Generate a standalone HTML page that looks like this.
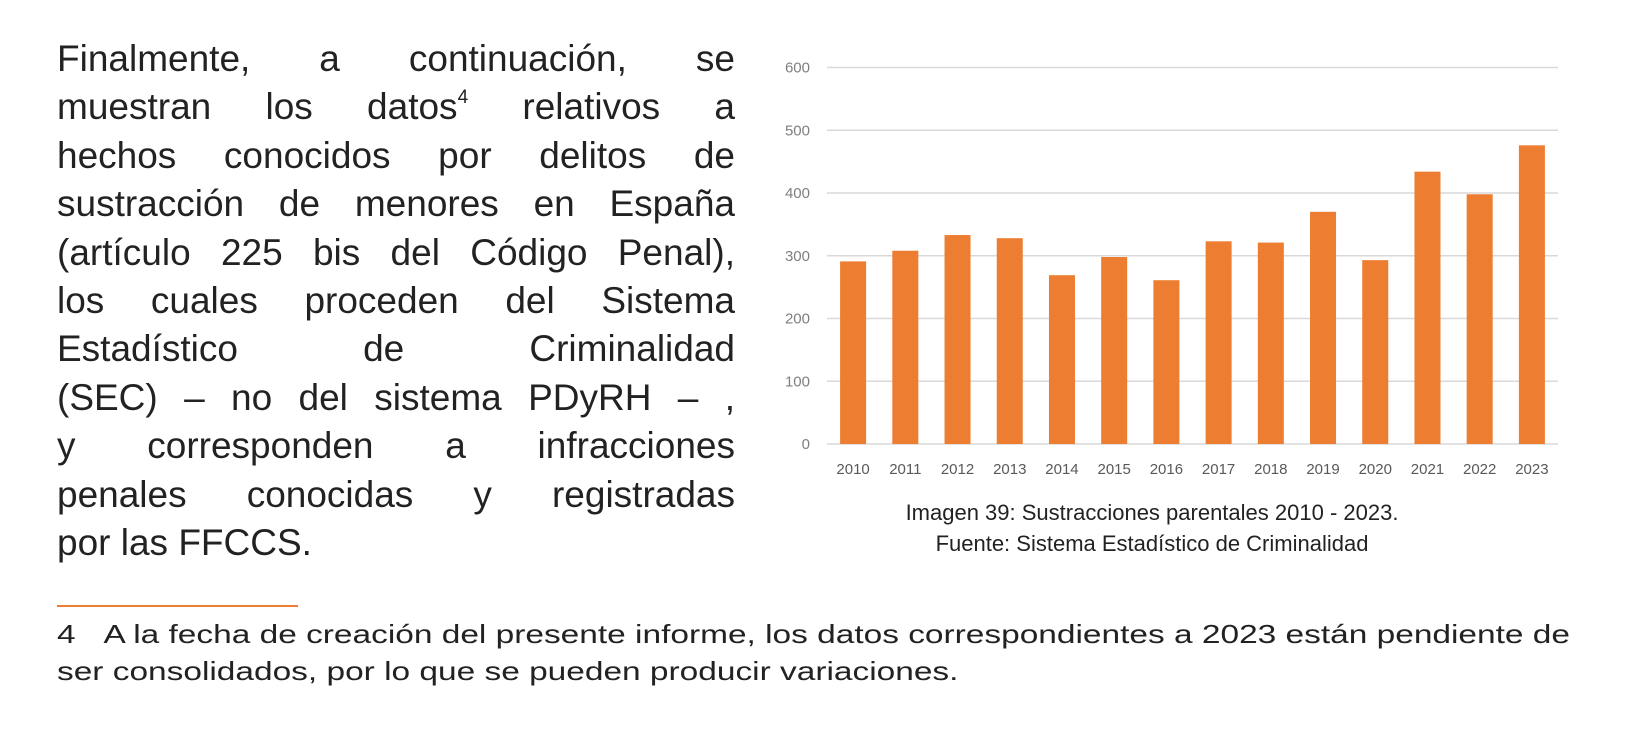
<!DOCTYPE html>
<html><head><meta charset="utf-8"><style>
body{margin:0;width:1627px;height:729px;background:#fff;position:relative;overflow:hidden;font-family:"Liberation Sans",sans-serif;color:#222}
#para{position:absolute;left:57px;top:35px;width:678px;font-size:37px;line-height:48.4px}
#para div{text-align:justify;text-align-last:justify;white-space:nowrap}
#para div.last{text-align-last:left}
sup{font-size:19px;vertical-align:top;line-height:30px}
.cap{position:absolute;left:802px;width:700px;text-align:center;font-size:22px;color:#222}
#fn{position:absolute;left:57px;top:616px;font-size:26px;line-height:37px;width:1560px}
#fn div{white-space:nowrap;transform-origin:0 0;display:inline-block}
</style></head><body>
<div id="para">
<div>Finalmente, a continuación, se</div>
<div>muestran los datos<sup>4</sup> relativos a</div>
<div>hechos conocidos por delitos de</div>
<div>sustracción de menores en España</div>
<div>(artículo 225 bis del Código Penal),</div>
<div>los cuales proceden del Sistema</div>
<div>Estadístico de Criminalidad</div>
<div>(SEC) – no del sistema PDyRH – ,</div>
<div>y corresponden a infracciones</div>
<div>penales conocidas y registradas</div>
<div class="last">por las FFCCS.</div>
</div>
<svg id="chart" style="position:absolute;left:0;top:0" width="1627" height="729"></svg>
<div class="cap" style="top:500px">Imagen 39: Sustracciones parentales 2010 - 2023.</div>
<div class="cap" style="top:531px">Fuente: Sistema Estadístico de Criminalidad</div>
<div style="position:absolute;left:57px;top:605px;width:241px;height:2px;background:#ed7d31"></div>
<div id="fn"><div id="fn1">4&nbsp;&nbsp;&nbsp;A la fecha de creación del presente informe, los datos correspondientes a 2023 están pendiente de</div><br><div id="fn2">ser consolidados, por lo que se pueden producir variaciones.</div></div>
<script>
const categories=["2010","2011","2012","2013","2014","2015","2016","2017","2018","2019","2020","2021","2022","2023"];
const values=[291,308,333,328,269,298,261,323,321,370,293,434,398,476];
const yTicks=[0,100,200,300,400,500,600];
const svg=document.getElementById('chart');
const NS='http://www.w3.org/2000/svg';
const x0=827,x1=1558,yBase=444,yTop=67.5,yMax=600;
const y=v=>yBase-(v/yMax)*(yBase-yTop);
const band=(x1-x0)/categories.length;
const xc=i=>x0+band*(i+0.5);
function mk(t,a){const e=document.createElementNS(NS,t);for(const k in a)e.setAttribute(k,a[k]);svg.appendChild(e);return e;}
yTicks.forEach(t=>{
 const l=mk('line',{x1:x0,x2:x1,y1:y(t),y2:y(t),stroke:'#d9d9d9','stroke-width':1.5});
 
 
 const tx=mk('text',{x:810,y:y(t)+5,'text-anchor':'end','font-size':15,fill:'#7f7f7f','font-family':'Liberation Sans, sans-serif'});
 tx.textContent=t;
 
 
});
categories.forEach((c,i)=>{
 const w=26;
 const r=mk('rect',{x:xc(i)-w/2,y:y(values[i]),width:w,height:yBase-y(values[i]),fill:'#ed7d31'});
 
 
 const tx=mk('text',{x:xc(i),y:474,'text-anchor':'middle','font-size':15,fill:'#595959','font-family':'Liberation Sans, sans-serif'});
 tx.textContent=c;
 
 
});
const f1=document.getElementById('fn1'),f2=document.getElementById('fn2');
const s=1513/f1.getBoundingClientRect().width;
f1.style.transform='scaleX('+s+')';
f2.style.transform='scaleX('+s+')';
</script>
</body></html>
